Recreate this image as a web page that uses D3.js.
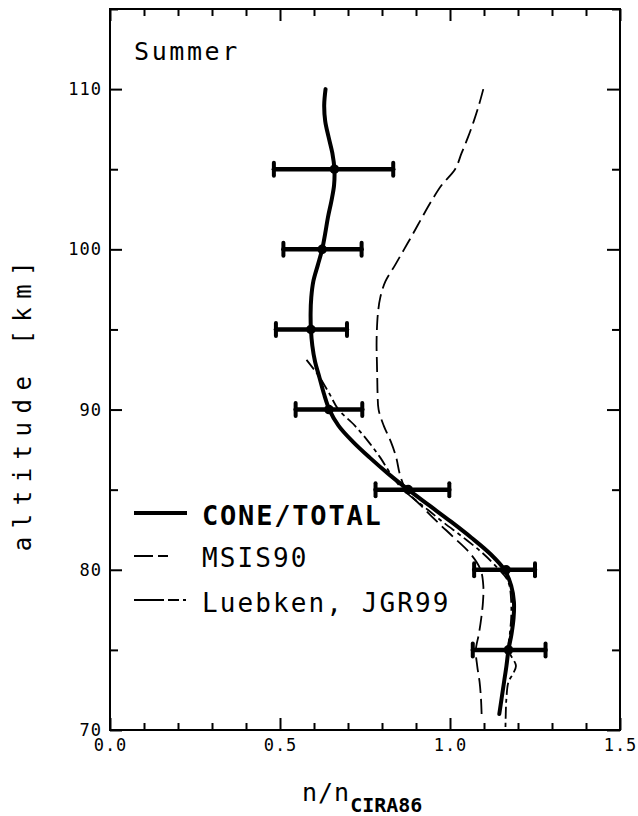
<!DOCTYPE html>
<html><head><meta charset="utf-8">
<script src="https://cdn.jsdelivr.net/npm/d3@7"></script>
<style>body{margin:0;background:#fff} svg{display:block}</style>
</head><body><svg id="c" width="638" height="816"></svg>
<script>
// ---- data ----
const coneAlt = [110,109,108,107,106,105,104,103,102,101,100,99,98,97,96,95,94,93,92,91,90,89,88,87,86,85,84,83,82,81,80,79,78,77,76,75,74,73,72,71];
const coneVal = [0.634,0.630,0.633,0.643,0.654,0.660,0.659,0.651,0.641,0.633,0.624,0.611,0.598,0.592,0.590,0.591,0.595,0.603,0.616,0.629,0.645,0.672,0.714,0.764,0.818,0.877,0.940,1.003,1.063,1.118,1.160,1.180,1.188,1.187,1.181,1.172,1.166,1.159,1.152,1.145];

const msisAlt = [110,109,108,107,106,105,104,103,102,101,100,99,98,97,96,95,94,93,92,91,90,89,88,87,86,85,84,83,82,81,80,79,78,77,76,75,74,73,72,71];
const msisVal = [1.098,1.085,1.070,1.053,1.034,1.015,0.975,0.945,0.918,0.892,0.865,0.838,0.810,0.795,0.788,0.785,0.784,0.785,0.786,0.787,0.790,0.805,0.826,0.842,0.852,0.870,0.915,0.962,1.012,1.060,1.090,1.098,1.097,1.092,1.085,1.076,1.080,1.087,1.091,1.093];

const luebAlt = [93.1,92.5,92,91,90,89,88,87,86,85,84,83,82,81,80,79.5,79,78,77,76,75,74,73.5,73,72,71,70];
const luebVal = [0.578,0.600,0.617,0.645,0.672,0.720,0.760,0.795,0.825,0.862,0.920,0.978,1.040,1.098,1.145,1.165,1.175,1.180,1.180,1.176,1.172,1.194,1.185,1.172,1.166,1.164,1.163];

const ptAlt = [105,100,95,90,85,80,75];
const ptVal = [0.660,0.624,0.591,0.644,0.877,1.165,1.172];
const errLo = [0.482,0.510,0.488,0.546,0.781,1.071,1.067];
const errHi = [0.833,0.740,0.697,0.742,0.998,1.250,1.281];

const xMajor = [0.0,0.5,1.0,1.5];
const xMinor = [0.1,0.2,0.3,0.4,0.6,0.7,0.8,0.9,1.1,1.2,1.3,1.4];
const yMajor = [70,80,90,100,110];
const yMinor = [75,85,95,105,115];

const legendNames = ["CONE/TOTAL","MSIS90","Luebken, JGR99"];

// ---- chart ----
const svg = d3.select("#c");
const L = 110, R = 620, T = 9, B = 730;
const x = d3.scaleLinear().domain([0,1.5]).range([L,R]);
const y = d3.scaleLinear().domain([70,115]).range([B,T]);
const FONT = "'DejaVu Sans Mono', monospace";

function styleAxis(g, labels){
  g.select(".domain").remove();
  g.selectAll(".tick line").attr("stroke","#000").attr("stroke-width",2);
  if(!labels) g.selectAll(".tick text").remove();
  else g.selectAll(".tick text").attr("font-family",FONT).attr("font-size",17).attr("letter-spacing",1).attr("fill","#000");
}
const fmtX = d3.format(".1f");
svg.append("g").attr("transform",`translate(0,${B})`)
  .call(d3.axisBottom(x).tickValues(xMajor).tickSize(-12).tickPadding(9).tickFormat(fmtX)).call(styleAxis,true);
svg.append("g").attr("transform",`translate(0,${B})`)
  .call(d3.axisBottom(x).tickValues(xMinor).tickSize(-7)).call(styleAxis,false);
svg.append("g").attr("transform",`translate(0,${T})`)
  .call(d3.axisTop(x).tickValues(xMajor).tickSize(-12)).call(styleAxis,false);
svg.append("g").attr("transform",`translate(0,${T})`)
  .call(d3.axisTop(x).tickValues(xMinor).tickSize(-7)).call(styleAxis,false);
svg.append("g").attr("transform",`translate(${L},0)`)
  .call(d3.axisLeft(y).tickValues(yMajor).tickSize(-12).tickPadding(8).tickFormat(d3.format("d"))).call(styleAxis,true);
svg.append("g").attr("transform",`translate(${L},0)`)
  .call(d3.axisLeft(y).tickValues(yMinor).tickSize(-8)).call(styleAxis,false);
svg.append("g").attr("transform",`translate(${R},0)`)
  .call(d3.axisRight(y).tickValues(yMajor).tickSize(-13)).call(styleAxis,false);
svg.append("g").attr("transform",`translate(${R},0)`)
  .call(d3.axisRight(y).tickValues(yMinor).tickSize(-8)).call(styleAxis,false);

svg.append("rect").attr("x",L).attr("y",T).attr("width",R-L).attr("height",B-T)
  .attr("fill","none").attr("stroke","#000").attr("stroke-width",2);

// lines
const line = d3.line().x(d=>x(d[1])).y(d=>y(d[0])).curve(d3.curveCatmullRom);
svg.append("path").datum(msisAlt.map((a,i)=>[a,msisVal[i]])).attr("d",line)
  .attr("fill","none").attr("stroke","#000").attr("stroke-width",1.8).attr("stroke-dasharray","15,6");
svg.append("path").datum(luebAlt.map((a,i)=>[a,luebVal[i]])).attr("d",line)
  .attr("fill","none").attr("stroke","#000").attr("stroke-width",1.8).attr("stroke-dasharray","12,4,4,4");
svg.append("path").datum(coneAlt.map((a,i)=>[a,coneVal[i]])).attr("d",line)
  .attr("fill","none").attr("stroke","#000").attr("stroke-width",4).attr("stroke-linecap","round");

// error bars
const eb = svg.append("g").attr("stroke","#000").attr("stroke-linecap","round");
ptAlt.forEach((a,i)=>{
  eb.append("line").attr("x1",x(errLo[i])).attr("x2",x(errHi[i])).attr("y1",y(a)).attr("y2",y(a)).attr("stroke-width",4.5);
  [errLo[i],errHi[i]].forEach(v=>{
    eb.append("line").attr("x1",x(v)).attr("x2",x(v)).attr("y1",y(a)-6.5).attr("y2",y(a)+6.5).attr("stroke-width",4);
  });
  svg.append("circle").attr("cx",x(ptVal[i])).attr("cy",y(a)).attr("r",4.8).attr("fill","#000");
});

// texts
svg.append("text").attr("x",134).attr("y",60).attr("font-family",FONT).attr("font-size",25)
  .attr("letter-spacing",2.6).text("Summer");
svg.append("text").attr("transform","translate(31,402) rotate(-90)").attr("text-anchor","middle")
  .attr("font-family",FONT).attr("font-size",24).attr("letter-spacing",8.5).text("altitude [km]");
const xl = svg.append("text").attr("x",302).attr("y",801).attr("font-family",FONT);
xl.append("tspan").attr("font-size",25).attr("letter-spacing",1).text("n/n");
xl.append("tspan").attr("font-size",20).attr("font-weight","bold").attr("dy",11).text("CIRA86");

// legend
const legY = [513,556,600];
const legBase = [525,567,612];
const leg = svg.append("g");
leg.append("line").attr("x1",134).attr("x2",187).attr("y1",legY[0]).attr("y2",legY[0]).attr("stroke","#000").attr("stroke-width",4);
leg.append("line").attr("x1",134).attr("x2",187).attr("y1",legY[1]).attr("y2",legY[1]).attr("stroke","#000").attr("stroke-width",1.8).attr("stroke-dasharray","19,5,10,30");
leg.append("line").attr("x1",134).attr("x2",188).attr("y1",legY[2]).attr("y2",legY[2]).attr("stroke","#000").attr("stroke-width",1.8).attr("stroke-dasharray","30,4,11,4,3,30");
legendNames.forEach((n,i)=>{
  leg.append("text").attr("x",202).attr("y",legBase[i]).attr("font-family",FONT)
    .attr("font-size",i===0?27:26).attr("font-weight",i===0?"bold":"normal")
    .attr("letter-spacing",i===0?1.8:2.1).text(n);
});
</script></body></html>
